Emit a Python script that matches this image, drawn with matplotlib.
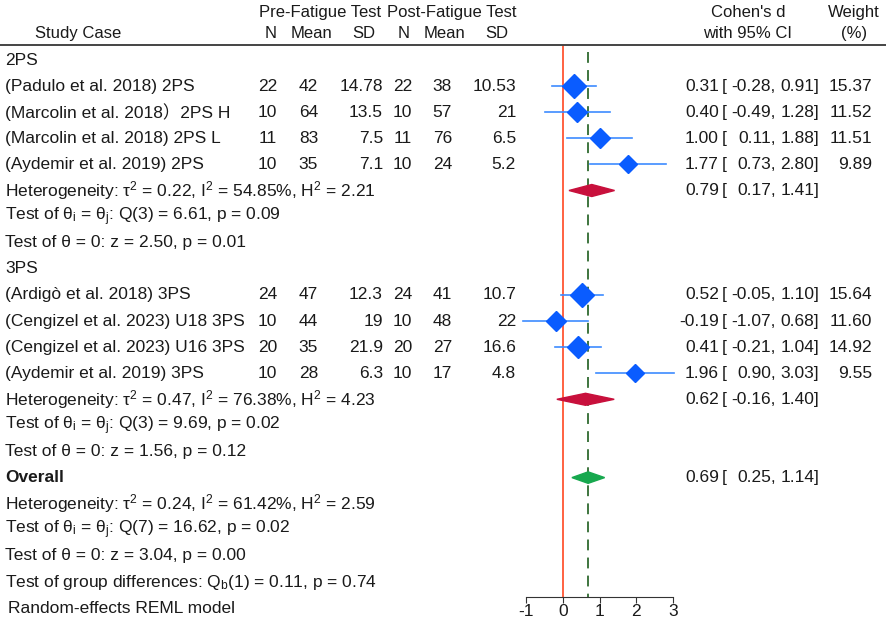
import numpy as np
import matplotlib.pyplot as plt
from matplotlib.transforms import blended_transform_factory
from matplotlib.patches import Polygon

plt.rcParams['font.family'] = ['Liberation Sans', 'DejaVu Sans', 'Noto Sans CJK SC']
plt.rcParams['mathtext.fontset'] = 'custom'
plt.rcParams['mathtext.rm'] = 'Liberation Sans'
plt.rcParams['mathtext.it'] = 'Liberation Sans:italic'
plt.rcParams['axes.unicode_minus'] = False

# ---- data ----
groups = ["2PS", "3PS"]
study = ["(Padulo et al. 2018) 2PS", "(Marcolin et al. 2018）2PS H",
         "(Marcolin et al. 2018) 2PS L", "(Aydemir et al. 2019) 2PS",
         "(Ardigò et al. 2018) 3PS", "(Cengizel et al. 2023) U18 3PS",
         "(Cengizel et al. 2023) U16 3PS", "(Aydemir et al. 2019) 3PS"]
study_group = ["2PS"] * 4 + ["3PS"] * 4
n_pre = [22, 10, 11, 10, 24, 10, 20, 10]
mean_pre = [42, 64, 83, 35, 47, 44, 35, 28]
sd_pre = [14.78, 13.5, 7.5, 7.1, 12.3, 19, 21.9, 6.3]
n_post = [22, 10, 11, 10, 24, 10, 20, 10]
mean_post = [38, 57, 76, 24, 41, 48, 27, 17]
sd_post = [10.53, 21, 6.5, 5.2, 10.7, 22, 16.6, 4.8]
d = [0.31, 0.40, 1.00, 1.77, 0.52, -0.19, 0.41, 1.96]
d_lo = [-0.28, -0.49, 0.11, 0.73, -0.05, -1.07, -0.21, 0.90]
d_hi = [0.91, 1.28, 1.88, 2.80, 1.10, 0.68, 1.04, 3.03]
weight = [15.37, 11.52, 11.51, 9.89, 15.64, 11.60, 14.92, 9.55]

sub_d = [0.79, 0.62]
sub_lo = [0.17, -0.16]
sub_hi = [1.41, 1.40]
sub_tau2 = [0.22, 0.47]
sub_i2 = [54.85, 76.38]
sub_h2 = [2.21, 4.23]
sub_q = [6.61, 9.69]
sub_df = [3, 3]
sub_qp = [0.09, 0.02]
sub_z = [2.50, 1.56]
sub_zp = [0.01, 0.12]

all_d, all_lo, all_hi = 0.69, 0.25, 1.14
all_tau2, all_i2, all_h2 = 0.24, 61.42, 2.59
all_q, all_df, all_qp = 16.62, 7, 0.02
all_z, all_zp = 3.04, 0.00
qb, qb_df, qb_p = 0.11, 1, 0.74

# ---- layout (pixels of an 886x622 figure) ----
W, H = 886, 622
ROW0, ROWH = 60, 26.1          # pixel y of first row, row height
AX_X0, AX_X1, AX_Y = 526, 673, 597


def row_of(py):
    return (py - ROW0) / ROWH


fig = plt.figure(figsize=(W / 100, H / 100), dpi=100)
ax = fig.add_axes([AX_X0 / W, (H - AX_Y) / H, (AX_X1 - AX_X0) / W, AX_Y / H])
ax.set_xlim(-1, 3)
ax.set_ylim(row_of(AX_Y), row_of(0))
for s in ["top", "left", "right"]:
    ax.spines[s].set_visible(False)
ax.spines["bottom"].set_color("#333333")
ax.set_yticks([])
ax.set_xticks([-1, 0, 1, 2, 3])
ax.tick_params(axis="x", length=4, color="#333333", labelsize=12.5, pad=1,
               labelcolor="#1a1a1a")

tr = blended_transform_factory(fig.transFigure, ax.transData)
TXT = "#1a1a1a"
FS = 12.5
HFS = 12


def put(px, row, s, ha="left", fs=FS, **kw):
    ax.text(px / W, row, s, transform=tr, ha=ha, va="center",
            fontsize=fs, color=TXT, **kw)


def ci_text(row, est, lo, hi):
    put(719, row, f"{est:.2f}", ha="right")
    put(722, row, "[")
    put(776, row, f"{lo:.2f},", ha="right")
    put(819, row, f"{hi:.2f}]", ha="right")


def diamond(row, est, lo, hi, h, color):
    ax.add_patch(Polygon([(lo, row), (est, row - h), (hi, row), (est, row + h)],
                         closed=True, color=color, clip_on=False, zorder=4))


def het_lines(row, tau2, i2, h2, q, df, qp, z, zp):
    put(5, row, f"Heterogeneity: τ$^\\mathregular{{2}}$ = {tau2:.2f}, "
                f"I$^\\mathregular{{2}}$ = {i2:.2f}%, H$^\\mathregular{{2}}$ = {h2:.2f}")
    put(5, row + 1, f"Test of θ$_\\mathregular{{i}}$ = θ$_\\mathregular{{j}}$: "
                    f"Q({df}) = {q:.2f}, p = {qp:.2f}")
    put(5, row + 2, f"Test of θ = 0: z = {z:.2f}, p = {zp:.2f}")


# header
hr1, hr2, hline = row_of(12), row_of(33), row_of(45)
put(78, hr2, "Study Case", ha="center", fs=HFS)
put(320, hr1, "Pre-Fatigue Test", ha="center", fs=HFS)
put(452, hr1, "Post-Fatigue Test", ha="center", fs=HFS)
for px, s in [(277, "N"), (332, "Mean"), (375, "SD"),
              (410, "N"), (465, "Mean"), (508, "SD")]:
    put(px, hr2, s, ha="right", fs=HFS)
put(748, hr1, "Cohen's d", ha="center", fs=HFS)
put(748, hr2, "with 95% CI", ha="center", fs=HFS)
put(854, hr1, "Weight", ha="center", fs=HFS)
put(854, hr2, "(%)", ha="center", fs=HFS)
ax.plot([0, 1], [hline, hline], transform=tr, color="#444444", lw=1.4, clip_on=False)

# reference lines
bottom = row_of(AX_Y)
ax.vlines(0, hline, bottom, color="#ff5533", lw=1.3, zorder=1)
ax.vlines(all_d, row_of(52), bottom, color="#2f6a2f", lw=1.3,
          linestyles=(0, (6, 4)), zorder=1)

# body
row = 0
for g, gname in enumerate(groups):
    put(5, row, gname)
    row += 1
    for i in [k for k, sg in enumerate(study_group) if sg == gname]:
        put(5, row, study[i])
        put(277, row, f"{n_pre[i]}", ha="right")
        put(318, row, f"{mean_pre[i]}", ha="right")
        put(383, row, f"{sd_pre[i]:g}", ha="right")
        put(412, row, f"{n_post[i]}", ha="right")
        put(452, row, f"{mean_post[i]}", ha="right")
        put(516, row, f"{sd_post[i]:g}", ha="right")
        ax.plot([d_lo[i], d_hi[i]], [row, row], color="#3d8bff", lw=1.2,
                clip_on=False, zorder=2)
        ax.plot(d[i], row, marker="D", ms=3.0 * np.sqrt(weight[i]),
                color="#0a5cff", mec="#0a5cff", clip_on=False, zorder=3)
        ci_text(row, d[i], d_lo[i], d_hi[i])
        put(872, row, f"{weight[i]:.2f}", ha="right")
        row += 1
    diamond(row, sub_d[g], sub_lo[g], sub_hi[g], 0.23, "#c8103c")
    ci_text(row, sub_d[g], sub_lo[g], sub_hi[g])
    het_lines(row, sub_tau2[g], sub_i2[g], sub_h2[g], sub_q[g], sub_df[g],
              sub_qp[g], sub_z[g], sub_zp[g])
    row += 3

put(5, row, "Overall", fontweight="bold")
diamond(row, all_d, all_lo, all_hi, 0.22, "#17a84e")
ci_text(row, all_d, all_lo, all_hi)
row += 1
het_lines(row, all_tau2, all_i2, all_h2, all_q, all_df, all_qp, all_z, all_zp)
row += 3
put(5, row, f"Test of group differences: Q$_\\mathregular{{b}}$({qb_df}) = {qb:.2f}, p = {qb_p:.2f}")
row += 1
put(8, row, "Random-effects REML model")

fig.savefig("out.png", dpi=100)
